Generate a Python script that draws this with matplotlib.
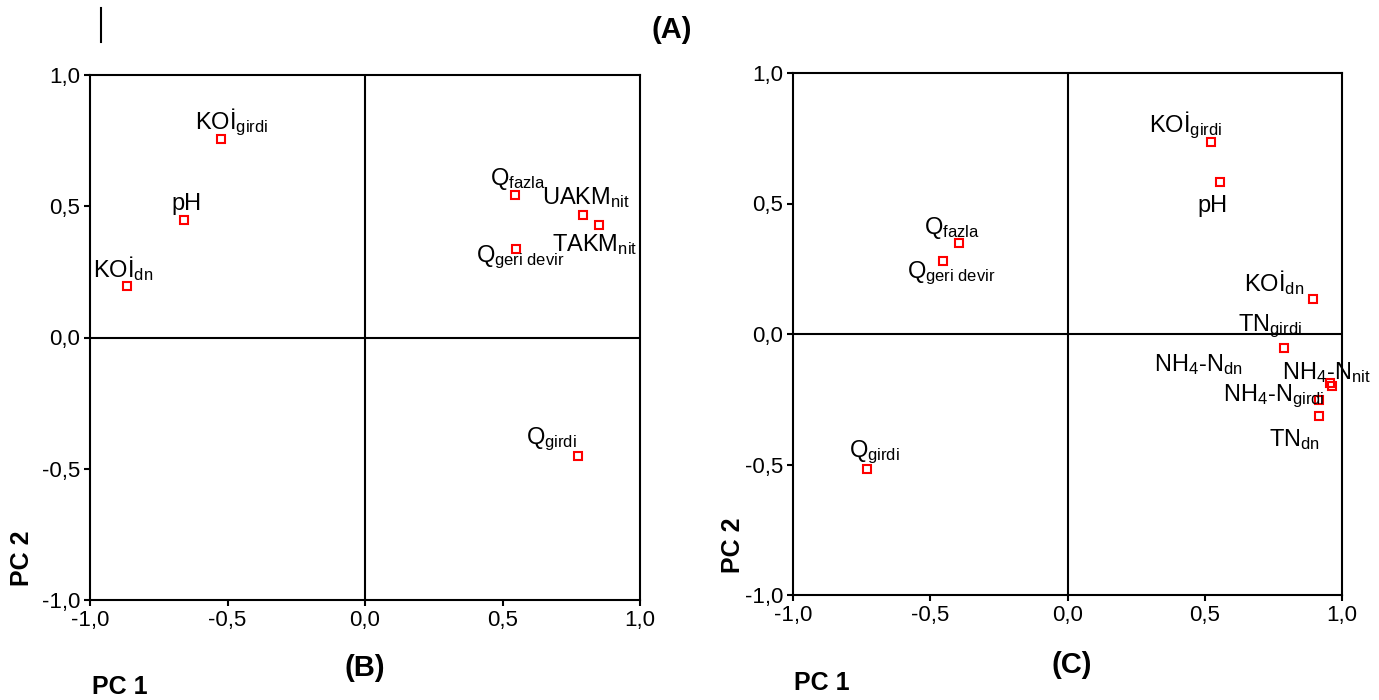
import matplotlib
matplotlib.use("Agg")
import matplotlib.pyplot as plt
from matplotlib.lines import Line2D
from matplotlib import font_manager

# fonts ----------------------------------------------------------------------
plt.rcParams['font.family'] = ['Liberation Sans', 'DejaVu Sans']
plt.rcParams['mathtext.fontset'] = 'custom'
plt.rcParams['mathtext.rm'] = 'Liberation Sans'
plt.rcParams['mathtext.it'] = 'Liberation Sans'

installed = {f.name for f in font_manager.fontManager.ttflist}
narrow = 'Liberation Sans Narrow' if 'Liberation Sans Narrow' in installed else 'Liberation Sans'

# data -----------------------------------------------------------------------
ticks = [-1.0, -0.5, 0.0, 0.5, 1.0]
tick_labels = ['-1,0', '-0,5', '0,0', '0,5', '1,0']

# panel B
b_names = [r'KOİ$_{\mathrm{girdi}}$', 'pH', r'KOİ$_{\mathrm{dn}}$', r'Q$_{\mathrm{fazla}}$',
           r'UAKM$_{\mathrm{nit}}$', r'TAKM$_{\mathrm{nit}}$', r'Q$_{\mathrm{geri\ devir}}$',
           r'Q$_{\mathrm{girdi}}$']
b_pc1 = [-0.524, -0.658, -0.865, 0.545, 0.793, 0.851, 0.549, 0.775]
b_pc2 = [0.758, 0.446, 0.198, 0.541, 0.465, 0.427, 0.339, -0.453]
# label offsets in points (dx, dy)
b_offsets = [(8, 12), (2, 12), (-3, 12), (2, 12), (2, 13), (-3, -14), (3, -6), (-19, 12)]

# panel C
c_names = [r'KOİ$_{\mathrm{girdi}}$', 'pH', r'Q$_{\mathrm{fazla}}$', r'Q$_{\mathrm{geri\ devir}}$',
           r'KOİ$_{\mathrm{dn}}$', r'TN$_{\mathrm{girdi}}$', r'NH$_4$-N$_{\mathrm{dn}}$',
           r'NH$_4$-N$_{\mathrm{nit}}$', r'NH$_4$-N$_{\mathrm{girdi}}$', r'TN$_{\mathrm{dn}}$',
           r'Q$_{\mathrm{girdi}}$']
c_pc1 = [0.521, 0.554, -0.397, -0.455, 0.893, 0.790, 0.958, 0.962, 0.918, 0.918, -0.732]
c_pc2 = [0.736, 0.582, 0.349, 0.280, 0.134, -0.054, -0.188, -0.199, -0.253, -0.314, -0.517]
c_offsets = [(-18, 12), (-5, -17), (-5, 11), (6, -9), (-28, 12), (-10, 16),
              (-95, 13), (-4, 10), (-33, 3), (-18, -17), (6, 12)]


def draw_panel(ax, xs, ys, names, offsets):
    ax.set_xlim(-1, 1)
    ax.set_ylim(-1, 1)
    ax.axhline(0, color='black', lw=1.5, zorder=1)
    ax.axvline(0, color='black', lw=1.5, zorder=1)
    ax.plot(xs, ys, 's', ms=5.5, mfc='none', mec='red', mew=1.5, zorder=3)
    for x, y, name, (dx, dy) in zip(xs, ys, names, offsets):
        ax.annotate(name, (x, y), xytext=(dx, dy), textcoords='offset points',
                    ha='center', va='center', fontsize=17)
    ax.set_xticks(ticks)
    ax.set_xticklabels(tick_labels, family=narrow)
    ax.set_yticks(ticks)
    ax.set_yticklabels(tick_labels, family=narrow)
    ax.tick_params(direction='out', length=4, width=1.5, labelsize=16, pad=3)
    for sp in ax.spines.values():
        sp.set_linewidth(1.5)


fig = plt.figure(figsize=(13.79, 7), dpi=100)
ax_b = fig.add_axes([90 / 1379, 1 - 600 / 700, 550 / 1379, 525 / 700])
ax_c = fig.add_axes([793 / 1379, 1 - 595 / 700, 549 / 1379, 522 / 700])

draw_panel(ax_b, b_pc1, b_pc2, b_names, b_offsets)
draw_panel(ax_c, c_pc1, c_pc2, c_names, c_offsets)

# panel titles and axis labels
bold = dict(ha='center', va='center', fontweight='bold', family=narrow)
fig.text(672 / 1379, 1 - 30 / 700, '(A)', fontsize=21, **bold)
fig.text(365 / 1379, 1 - 668 / 700, '(B)', fontsize=21, **bold)
fig.text(1072 / 1379, 1 - 665 / 700, '(C)', fontsize=21, **bold)
fig.text(120 / 1379, 1 - 687 / 700, 'PC 1', fontsize=18, **bold)
fig.text(822 / 1379, 1 - 683 / 700, 'PC 1', fontsize=18, **bold)
fig.text(22 / 1379, 1 - 558 / 700, 'PC 2', fontsize=18, rotation=90, **bold)
fig.text(733 / 1379, 1 - 545 / 700, 'PC 2', fontsize=18, rotation=90, **bold)

# stray cursor mark top left
fig.add_artist(Line2D([101 / 1379, 101 / 1379], [1 - 8 / 700, 1 - 42 / 700],
                      color='black', lw=1.5, transform=fig.transFigure))

fig.savefig('out.png', dpi=100)
